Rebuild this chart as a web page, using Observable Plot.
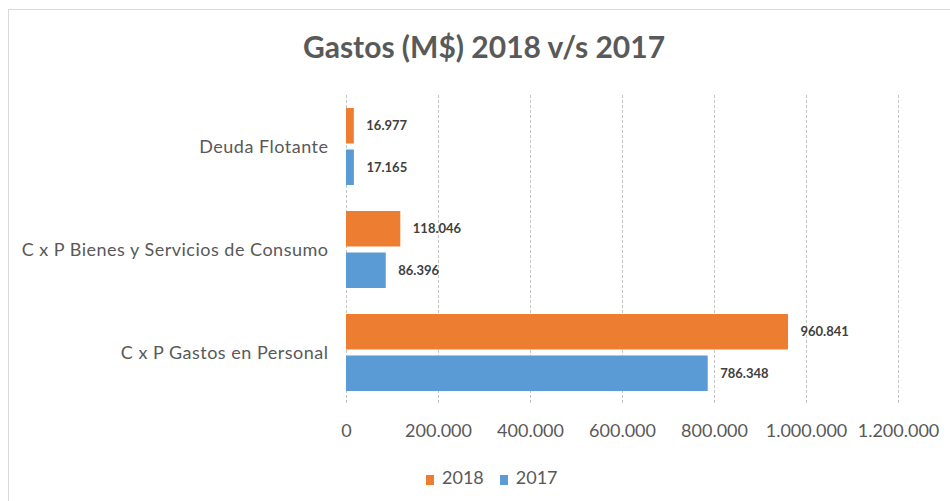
<!DOCTYPE html>
<html>
<head>
<meta charset="utf-8">
<script src="https://cdn.jsdelivr.net/npm/d3@7"></script>
<script src="https://cdn.jsdelivr.net/npm/@observablehq/plot@0.6"></script>
<style>
  body { margin: 0; background: #fff; }
  #wrap { position: relative; width: 950px; height: 501px; overflow: hidden; font-family: Lato, "Open Sans", sans-serif; }
  #frame { position: absolute; left: 8px; top: 9px; width: 980px; height: 560px; border: 1px solid #d9d9d9; box-sizing: border-box; }
  #title { position: absolute; left: 0; top: 31px; width: 968px; text-align: center; font-size: 30px; line-height: 30px; font-weight: bold; color: #595959; }
  #chart { position: absolute; left: 0; top: 80px; }
  #chart g[aria-label="y-axis tick label"] text { letter-spacing: 0.5px; }
  #legend { position: absolute; left: 426px; top: 467px; font-size: 18px; line-height: 20px; color: #595959; white-space: nowrap; }
  .sw { display: inline-block; width: 8px; height: 10px; margin-right: 8px; vertical-align: -1px; }
  .item { margin-right: 16px; }
</style>
</head>
<body>
<div id="wrap">
  <div id="frame"></div>
  <div id="title">Gastos (M$) 2018 v/s 2017</div>
  <div id="chart"></div>
  <div id="legend"></div>
</div>
<script>
const categories = ["Deuda Flotante", "C x P Bienes y Servicios de Consumo", "C x P Gastos en Personal"];
const seriesNames = ["2018", "2017"];
const values2018 = [16977, 118046, 960841];
const values2017 = [17165, 86396, 786348];
const xTicks = [0, 200000, 400000, 600000, 800000, 1000000, 1200000];
const colors = ["#ED7D31", "#5B9BD5"];

const locale = d3.formatLocale({decimal: ",", thousands: ".", grouping: [3], currency: ["$", ""]});
const fmt = locale.format(",d");

const d2018 = categories.map((c, i) => ({category: c, series: "2018", value: values2018[i]}));
const d2017 = categories.map((c, i) => ({category: c, series: "2017", value: values2017[i]}));

const chart = Plot.plot({
  width: 950,
  height: 370,
  marginLeft: 346,
  marginRight: 52,
  marginTop: 15,
  marginBottom: 45,
  style: {fontFamily: "Lato, 'Open Sans', sans-serif", fontSize: "18px", color: "#595959", background: "transparent"},
  x: {domain: [0, 1200000], ticks: xTicks, tickFormat: fmt, tickSize: 0, tickPadding: 19, label: null},
  y: {domain: categories, paddingInner: 0.25, paddingOuter: 0.125, tickSize: 0, tickPadding: 18, label: null},
  marks: [
    Plot.ruleX(xTicks, {stroke: "#c4c4c4", strokeDasharray: "3,2"}),
    Plot.barX(d2018, {y: "category", x: "value", fill: colors[0], insetBottom: 41.5}),
    Plot.barX(d2017, {y: "category", x: "value", fill: colors[1], insetTop: 41.5}),
    Plot.text(d2018, {y: "category", x: "value", text: d => fmt(d.value), dx: 12, dy: -20.8, textAnchor: "start", fontWeight: "bold", fontSize: 13, fill: "#404040"}),
    Plot.text(d2017, {y: "category", x: "value", text: d => fmt(d.value), dx: 12, dy: 20.8, textAnchor: "start", fontWeight: "bold", fontSize: 13, fill: "#404040"})
  ]
});
document.getElementById("chart").appendChild(chart);

const legend = document.getElementById("legend");
seriesNames.forEach((s, i) => {
  const span = document.createElement("span");
  span.className = "item";
  span.innerHTML = `<span class="sw" style="background:${colors[i]}"></span>${s}`;
  legend.appendChild(span);
});
</script>
</body>
</html>
